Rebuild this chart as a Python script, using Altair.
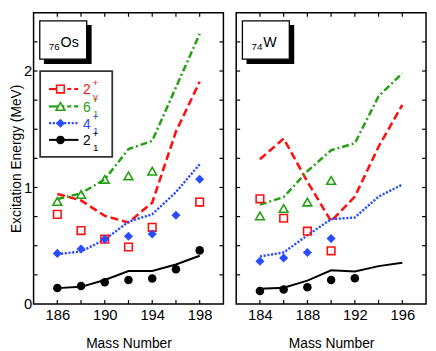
import altair as alt
import pandas as pd

# ---------------- data ----------------
os_mass = [186, 188, 190, 192, 194, 196, 198]
os_e21_exp = [0.137, 0.155, 0.187, 0.206, 0.219, 0.298, 0.460]
os_e21_th = [0.136, 0.147, 0.206, 0.283, 0.283, 0.339, 0.414]
os_e41_exp = [0.434, 0.472, 0.556, 0.581, 0.600, 0.761, 1.070]
os_e41_th = [0.428, 0.450, 0.553, 0.706, 0.770, 0.960, 1.200]
os_e61_exp_mass = [186, 188, 190, 192, 194]
os_e61_exp = [0.880, 0.940, 1.070, 1.100, 1.140]
os_e61_th = [0.900, 0.950, 1.070, 1.330, 1.400, 1.860, 2.320]
os_g_exp_mass = [186, 188, 190, 192, 194, 198]
os_g_exp = [0.769, 0.630, 0.556, 0.489, 0.658, 0.875]
os_g_th = [0.944, 0.889, 0.756, 0.700, 0.870, 1.480, 1.908]

w_mass = [184, 186, 188, 190, 192, 194, 196]
w_e21_exp_mass = [184, 186, 188, 190, 192]
w_e21_exp = [0.111, 0.125, 0.144, 0.206, 0.220]
w_e21_th = [0.130, 0.139, 0.200, 0.289, 0.278, 0.325, 0.353]
w_e41_exp_mass = [184, 186, 188, 190]
w_e41_exp = [0.367, 0.394, 0.442, 0.561]
w_e41_th = [0.408, 0.442, 0.589, 0.728, 0.742, 0.922, 1.025]
w_e61_exp_mass = [184, 186, 188, 190]
w_e61_exp = [0.756, 0.820, 0.875, 1.060]
w_e61_th = [0.853, 0.917, 1.140, 1.320, 1.380, 1.783, 1.980]
w_g_exp_mass = [184, 186, 188, 190]
w_g_exp = [0.903, 0.736, 0.625, 0.456]
w_g_th = [1.242, 1.420, 1.050, 0.710, 0.922, 1.350, 1.710]

os_x_labels = [186, 190, 194, 198]
os_x_ticks = [186, 188, 190, 192, 194, 196, 198]
w_x_labels = [184, 188, 192, 196]
w_x_ticks = [184, 186, 188, 190, 192, 194, 196]
y_labels = [0, 1, 2]
y_ticks = [0.25, 0.5, 0.75, 1.0, 1.25, 1.5, 1.75, 2.0, 2.25]

FONT = "Liberation Sans"
RED = "#ff1010"
GREEN = "#22a012"
BLUE = "#2a4cff"
BLACK = "#000000"
W, H = 193, 296

series = [
    # key, colour, dash, width, shape, filled, size
    ("g", RED, [8, 4], 2.6, "square", False, 60),
    ("e61", GREEN, [7, 3, 2, 3], 2.5, "triangle-up", False, 80),
    ("e41", BLUE, [2.2, 1.6], 2.4, "diamond", True, 85),
    ("e21", BLACK, None, 2.0, "circle", True, 75),
]
legend_main = ["2", "6", "4", "2"]
legend_sub = ["γ", "1", "1", "1"]
legend_right_dash = [[4, 3], [4, 3], [2.2, 1.6], None]
legend_left_dash = [None, None, [2.2, 1.6], None]

one = pd.DataFrame({"a": [0]})


def rect(x1, y1, x2, y2, **kw):
    return alt.Chart(one).mark_rect(**kw).encode(
        x=alt.value(x1), x2=alt.value(x2), y=alt.value(y1), y2=alt.value(y2))


def text(t, x, y, size, color=BLACK):
    return alt.Chart(one).mark_text(
        text=t, align="left", baseline="alphabetic", font=FONT,
        fontSize=size, color=color).encode(x=alt.value(x), y=alt.value(y))


def panel(name, sub, mass, th, exp, domain, xlabels, xticks, show_y, legend):
    xs = alt.Scale(domain=domain, nice=False, zero=False)
    ys = alt.Scale(domain=[0, 2.5], nice=False, zero=False)
    X = alt.X("mass:Q", scale=xs,
              axis=alt.Axis(values=xlabels, title="Mass Number", ticks=False,
                            domain=False, grid=False, format="d",
                            labelPadding=4, titlePadding=14))
    if show_y:
        yaxis = alt.Axis(values=y_labels, title="Excitation Energy (MeV)",
                         ticks=False, domain=False, grid=False, format="d",
                         labelPadding=2, titlePadding=0)
    else:
        yaxis = None
    Y = alt.Y("E:Q", scale=ys, axis=yaxis)

    layers = []
    for (key, col, dash, sw, shape, filled, size) in series:
        df = pd.DataFrame({"mass": mass, "E": th[key]})
        kw = dict(color=col, strokeWidth=sw, strokeCap="butt")
        if dash:
            kw["strokeDash"] = dash
        layers.append(alt.Chart(df).mark_line(**kw).encode(x=X, y=Y))
    for (key, col, dash, sw, shape, filled, size) in series:
        em, ev = exp[key]
        df = pd.DataFrame({"mass": em, "E": ev})
        if filled:
            m = alt.Chart(df).mark_point(shape=shape, filled=True, color=col,
                                         size=size, opacity=1)
        else:
            m = alt.Chart(df).mark_point(shape=shape, filled=False, color=col,
                                         size=size, strokeWidth=1.6, opacity=1)
        layers.append(m.encode(x=X, y=Y))

    # inward ticks on all four sides
    xt = pd.DataFrame({"mass": xticks})
    yt = pd.DataFrame({"E": y_ticks})
    tk = dict(color=BLACK, strokeWidth=1.2)
    layers.append(alt.Chart(xt).mark_rule(**tk).encode(x=X, y=alt.value(H), y2=alt.value(H - 4)))
    layers.append(alt.Chart(xt).mark_rule(**tk).encode(x=X, y=alt.value(0), y2=alt.value(4)))
    layers.append(alt.Chart(yt).mark_rule(**tk).encode(y=Y, x=alt.value(0), x2=alt.value(4)))
    layers.append(alt.Chart(yt).mark_rule(**tk).encode(y=Y, x=alt.value(W), x2=alt.value(W - 4)))

    # nucleus label box with shadow
    layers.append(rect(10.5, 12.5, 59, 52, fill=BLACK))
    layers.append(rect(6.3, 8.2, 54, 47.2, fill="white", stroke=BLACK, strokeWidth=1.3))
    layers.append(text(sub, 15.5, 37.5, 10))
    layers.append(text(name, 15.5 + 6 * len(sub), 35.2, 14.5))

    if legend:
        layers.append(rect(6.7, 59.2, 80, 146.5, fill="white", stroke="#333333", strokeWidth=1.8))
        rows = [77.5, 95.2, 112.2, 129.2]
        for i, (key, col, dash, sw, shape, filled, size) in enumerate(series):
            ry = rows[i]
            lk = dict(color=col, strokeWidth=2.2 if key != "e21" else 2.0, strokeCap="butt")
            if legend_left_dash[i]:
                lk["strokeDash"] = legend_left_dash[i]
            layers.append(alt.Chart(one).mark_rule(**lk).encode(
                x=alt.value(15.7), x2=alt.value(27.3), y=alt.value(ry)))
            rk = dict(color=col, strokeWidth=2.2 if key != "e21" else 2.0, strokeCap="butt")
            if legend_right_dash[i]:
                rk["strokeDash"] = legend_right_dash[i]
            layers.append(alt.Chart(one).mark_rule(**rk).encode(
                x=alt.value(27.3), x2=alt.value(45.7), y=alt.value(ry)))
            if filled:
                pm = alt.Chart(one).mark_point(shape=shape, filled=True, color=col,
                                               size=size, opacity=1)
            else:
                pm = alt.Chart(one).mark_point(shape=shape, filled=True, fill="white",
                                               stroke=col, size=size,
                                               strokeWidth=1.6, opacity=1)
            layers.append(pm.encode(x=alt.value(27.3), y=alt.value(ry)))
            layers.append(text(legend_main[i], 50.3, ry + 5.5, 14, col))
            layers.append(text("+", 60, ry - 3, 10, col))
            layers.append(text(legend_sub[i], 60.5, ry + 11, 10, col))

    return alt.layer(*layers).properties(width=W, height=H)


os_th = {"g": os_g_th, "e61": os_e61_th, "e41": os_e41_th, "e21": os_e21_th}
os_exp = {"g": (os_g_exp_mass, os_g_exp), "e61": (os_e61_exp_mass, os_e61_exp),
          "e41": (os_mass, os_e41_exp), "e21": (os_mass, os_e21_exp)}
w_th = {"g": w_g_th, "e61": w_e61_th, "e41": w_e41_th, "e21": w_e21_th}
w_exp = {"g": (w_g_exp_mass, w_g_exp), "e61": (w_e61_exp_mass, w_e61_exp),
         "e41": (w_e41_exp_mass, w_e41_exp), "e21": (w_e21_exp_mass, w_e21_exp)}

left = panel("Os", "76", os_mass, os_th, os_exp, [184, 200], os_x_labels,
             os_x_ticks, True, True)
right = panel("W", "74", w_mass, w_th, w_exp, [182, 198], w_x_labels,
              w_x_ticks, False, False)

chart = alt.hconcat(left, right, spacing=9).properties(
    padding=0, background="white"
).configure_view(
    stroke=BLACK, strokeWidth=1.5
).configure_axis(
    labelFont=FONT, titleFont=FONT, labelFontSize=15, titleFontSize=14,
    titleFontWeight="normal", labelColor=BLACK, titleColor=BLACK
)

chart.save("out.html", embed_options={"renderer": "svg", "actions": False})
